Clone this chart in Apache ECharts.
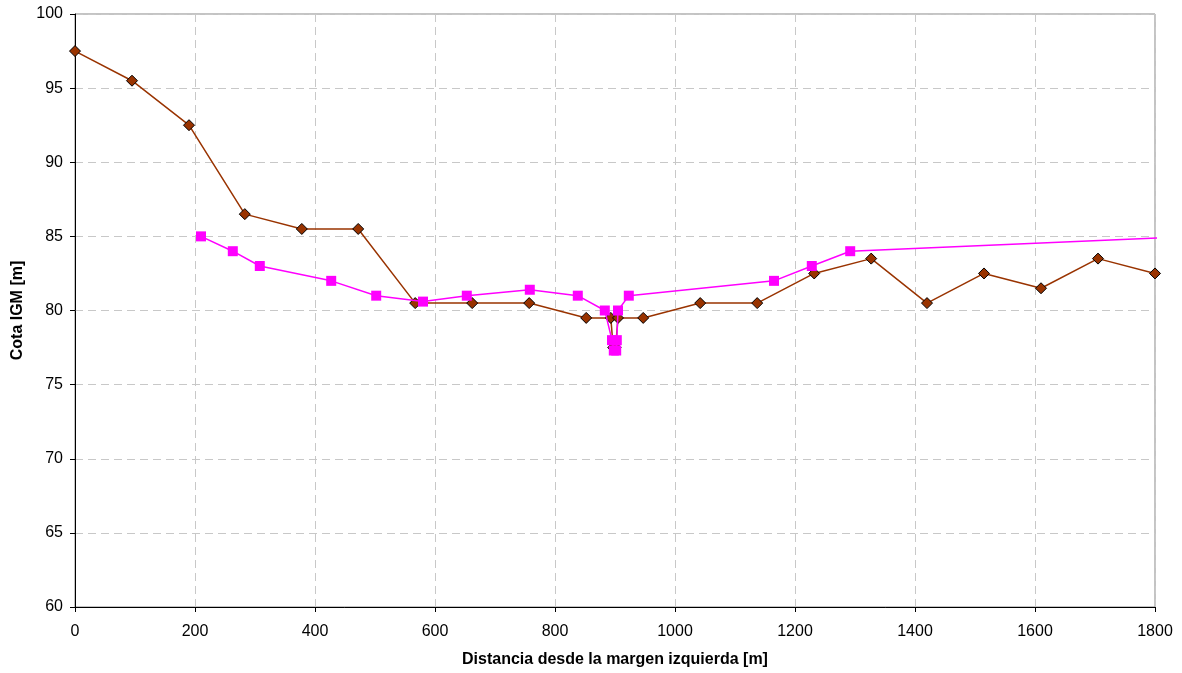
<!DOCTYPE html>
<html><head><meta charset="utf-8">
<script src="https://cdn.jsdelivr.net/npm/echarts@6/dist/echarts.min.js"></script>
<style>html,body{margin:0;padding:0;background:#fff}#c{width:1182px;height:673px}</style>
</head><body><div id="c"></div>
<script>
const terrainX = [0, 95, 190, 283, 378, 472, 567, 662, 757, 852, 893, 897, 901, 905, 947, 1042, 1137, 1232, 1327, 1420, 1515, 1610, 1705, 1800];
const terrainY = [97.5, 95.5, 92.5, 86.5, 85.5, 85.5, 80.5, 80.5, 80.5, 79.5, 79.5, 77.5, 77.5, 79.5, 79.5, 80.5, 80.5, 82.5, 83.5, 80.5, 82.5, 81.5, 83.5, 82.5];
const waterX = [210, 263, 308, 427, 502, 580, 653, 758, 838, 883, 895, 898, 902, 903, 905, 923, 1165, 1228, 1292, 1805];
const waterY = [85.0, 84.0, 83.0, 82.0, 81.0, 80.6, 81.0, 81.4, 81.0, 80.0, 78.0, 77.3, 77.3, 78.0, 80.0, 81.0, 82.0, 83.0, 84.0, 84.9];
const xTitle = 'Distancia desde la margen izquierda [m]';
const yTitle = 'Cota IGM [m]';

const terrain = terrainX.map((x, i) => [x, terrainY[i]]);
const water = waterX.map((x, i) => {
  const d = { value: [x, waterY[i]] };
  if (i === waterX.length - 1) d.symbol = 'none';
  return d;
});
const font = 'Liberation Sans, Arial, sans-serif';
const chart = echarts.init(document.getElementById('c'));
chart.setOption({
  animation: false,
  grid: { left: 75, right: 27, top: 14, bottom: 66, show: true, borderColor: '#888', borderWidth: 1, backgroundColor: 'transparent' },
  xAxis: {
    type: 'value', min: 0, max: 1800, interval: 200,
    name: xTitle, nameLocation: 'middle', nameGap: 45,
    nameTextStyle: { fontFamily: font, fontWeight: 'bold', fontSize: 16, color: '#000' },
    axisLine: { lineStyle: { color: '#000', width: 1 } },
    axisTick: { show: true, length: 5, lineStyle: { color: '#000' } },
    axisLabel: { fontFamily: font, fontSize: 16, color: '#000', margin: 17, formatter: v => String(v) },
    splitLine: { show: true, lineStyle: { color: '#c8c8c8', type: [8, 5] } }
  },
  yAxis: {
    type: 'value', min: 60, max: 100, interval: 5,
    name: yTitle, nameLocation: 'middle', nameGap: 48,
    nameTextStyle: { fontFamily: font, fontWeight: 'bold', fontSize: 16, color: '#000' },
    axisLine: { show: true, lineStyle: { color: '#000', width: 1 } },
    axisTick: { show: true, length: 5, lineStyle: { color: '#000' } },
    axisLabel: { fontFamily: font, fontSize: 16, color: '#000', margin: 12, formatter: v => String(v) },
    splitLine: { show: true, lineStyle: { color: '#c8c8c8', type: [8, 5] } }
  },
  series: [
    {
      type: 'line', data: water, symbol: 'rect', symbolSize: 10,
      lineStyle: { color: '#ff00ff', width: 1.5 },
      itemStyle: { color: '#ff00ff' }, z: 3, clip: true
    },
    {
      type: 'line', data: terrain, symbol: 'diamond', symbolSize: 11,
      lineStyle: { color: '#993300', width: 1.5 },
      itemStyle: { color: '#993300', borderColor: '#000', borderWidth: 1 }, z: 2, clip: false
    }
  ]
});
</script></body></html>
